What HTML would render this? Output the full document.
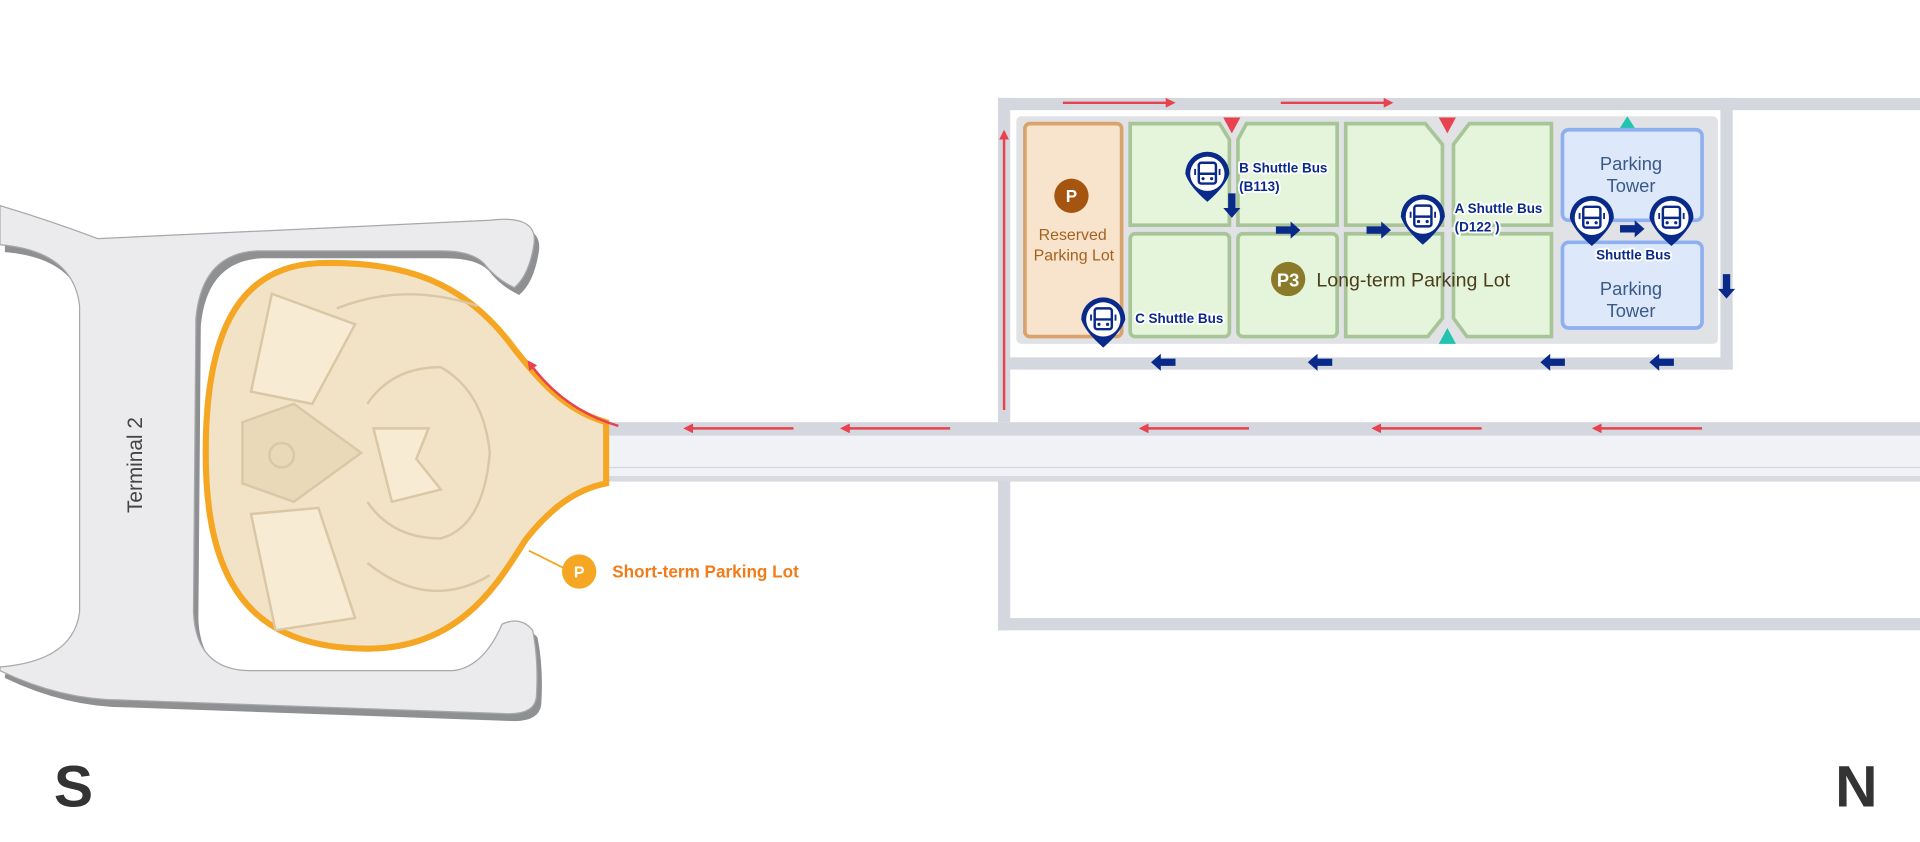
<!DOCTYPE html>
<html><head><meta charset="utf-8"><style>
html,body{margin:0;padding:0;background:#fff;}
svg{display:block;}
text{font-family:"Liberation Sans",sans-serif;}
.bl{font-size:11px;font-weight:bold;fill:#0a2a8a;stroke:#fff;stroke-width:3px;paint-order:stroke;stroke-linejoin:round;}
</style></head><body>
<svg width="1920" height="842" viewBox="0 0 1568 688" preserveAspectRatio="none" xmlns="http://www.w3.org/2000/svg">
<defs>
<marker id="ra" markerWidth="8" markerHeight="8" refX="6" refY="4" orient="auto" markerUnits="userSpaceOnUse"><path d="M0,0 L8,4 L0,8 Z" fill="#e8414f"/></marker>
<g id="bus">
<path d="M-18,0 A18,18 0 1 1 18,0 Q15,10 0,23 Q-15,10 -18,0 Z" fill="#0a2a8a"/>
<circle r="14" fill="#fff"/>
<rect x="-7" y="-9" width="14" height="17" rx="2" fill="none" stroke="#0a2a8a" stroke-width="2"/>
<line x1="-7" y1="0" x2="7" y2="0" stroke="#0a2a8a" stroke-width="2"/>
<circle cx="-3.5" cy="4" r="1.3" fill="#0a2a8a"/><circle cx="3.5" cy="4" r="1.3" fill="#0a2a8a"/>
<line x1="-10" y1="-4" x2="-10" y2="1" stroke="#0a2a8a" stroke-width="1.5"/><line x1="10" y1="-4" x2="10" y2="1" stroke="#0a2a8a" stroke-width="1.5"/>
</g>
<path id="arR" d="M-10,-3 L2,-3 L2,-7 L10,0 L2,7 L2,3 L-10,3 Z" fill="#0a2a8a"/>
</defs>

<!-- terminal shadow + body -->
<path transform="translate(4,6)" d="M0,168 Q40,180 80,195 L400,180 Q440,175 436,200 Q432,225 420,235 Q405,228 395,215 Q385,205 360,205 L210,205 Q165,207 160,260 L158,500 Q160,548 205,548 L370,548 Q395,545 410,510 Q425,503 435,515 Q440,540 438,570 Q436,585 410,583 L100,572 Q50,572 0,548 L0,545 Q60,540 65,500 L65,250 Q60,205 0,200 Z" fill="#8f9092"/>
<path d="M0,168 Q40,180 80,195 L400,180 Q440,175 436,200 Q432,225 420,235 Q405,228 395,215 Q385,205 360,205 L210,205 Q165,207 160,260 L158,500 Q160,548 205,548 L370,548 Q395,545 410,510 Q425,503 435,515 Q440,540 438,570 Q436,585 410,583 L100,572 Q50,572 0,548 L0,545 Q60,540 65,500 L65,250 Q60,205 0,200 Z" fill="#ebebed" stroke="#a7a8aa" stroke-width="1"/>
<text transform="translate(116,380) rotate(-90)" text-anchor="middle" font-size="17" fill="#444">Terminal 2</text>

<!-- main road -->
<rect x="470" y="345" width="1100" height="48" fill="#f1f2f6"/>
<rect x="470" y="345" width="1100" height="11" fill="#d5d7de"/>
<rect x="470" y="382" width="1100" height="11" fill="#f1f2f6" stroke="#d5d7de" stroke-width="1"/>
<rect x="470" y="389" width="1100" height="4" fill="#d8dae0"/>

<!-- short-term lot -->
<path d="M495,345 C460,335 440,310 420,285 C380,230 330,213 260,215 C190,218 168,280 168,370 C168,470 200,530 300,530 C380,530 410,470 430,440 C450,415 470,400 495,395 Z" fill="#f2e3c6" stroke="#f5a623" stroke-width="5"/>
<g fill="none" stroke="#d9c7a5" stroke-width="2">
<path d="M222,240 L290,265 L255,330 L205,320 Z" fill="#f7ebd3"/>
<path d="M205,420 L260,415 L290,505 L225,515 Z" fill="#f7ebd3"/>
<path d="M198,345 L240,330 L295,370 L240,410 L198,395 Z" fill="#ead9b9"/>
<path d="M300,330 Q320,300 360,300 Q395,320 400,370 Q395,430 360,440 Q320,440 300,410" />
<path d="M305,350 L350,350 L340,375 L360,400 L320,410 Z" fill="#f7ebd3"/>
<circle cx="230" cy="372" r="10"/>
<path d="M275,252 Q330,230 390,250"/><path d="M300,460 Q350,500 400,470"/>
</g>
<path d="M505,348 Q460,335 432,296" fill="none" stroke="#e8414f" stroke-width="2" marker-end="url(#ra)"/>

<!-- red arrows main road -->
<g stroke="#e8414f" stroke-width="2" marker-end="url(#ra)">
<line x1="648" y1="350" x2="560" y2="350"/><line x1="776" y1="350" x2="688" y2="350"/>
<line x1="1020" y1="350" x2="932" y2="350"/><line x1="1210" y1="350" x2="1122" y2="350"/>
<line x1="1390" y1="350" x2="1302" y2="350"/>
</g>

<!-- road loops -->
<g fill="#d5d7de">
<rect x="815" y="80" width="753" height="10"/>
<rect x="815" y="80" width="10" height="265"/>
<rect x="1405" y="80" width="10" height="222"/>
<rect x="815" y="292" width="600" height="10"/>
<rect x="815" y="393" width="10" height="122"/>
<rect x="815" y="505" width="753" height="10"/>
</g>
<g stroke="#e8414f" stroke-width="2" marker-end="url(#ra)">
<line x1="868" y1="84" x2="958" y2="84"/><line x1="1046" y1="84" x2="1136" y2="84"/>
<line x1="820" y1="335" x2="820" y2="108"/>
</g>

<!-- inner base -->
<rect x="830" y="95" width="573" height="186" rx="4" fill="#e1e2e6"/>

<!-- reserved -->
<rect x="837" y="101" width="79" height="174" rx="4" fill="#f8e3cd" stroke="#d9a46c" stroke-width="3"/>
<circle cx="875" cy="160" r="14" fill="#a5550f"/>
<text x="875" y="165" text-anchor="middle" font-size="14" font-weight="bold" fill="#fff">P</text>
<text x="876" y="196" text-anchor="middle" font-size="13" fill="#a5621f">Reserved</text>
<text x="877" y="213" text-anchor="middle" font-size="13" fill="#a5621f">Parking Lot</text>

<!-- green cells -->
<g fill="#e5f5dc" stroke="#a8c597" stroke-width="3">
<path d="M923,101 L996,101 L1004,114 L1004,184 L923,184 Z"/>
<path d="M1018,101 L1092,101 L1092,184 L1011,184 L1011,114 Z"/>
<path d="M1099,101 L1164,101 L1178,118 L1178,184 L1099,184 Z"/>
<path d="M1200,101 L1267,101 L1267,184 L1187,184 L1187,118 Z"/>
<rect x="923" y="191" width="81" height="84" rx="4"/>
<rect x="1011" y="191" width="81" height="84" rx="4"/>
<path d="M1099,191 L1178,191 L1178,260 L1166,275 L1099,275 Z"/>
<path d="M1187,191 L1267,191 L1267,275 L1198,275 L1187,260 Z"/>
</g>
<g fill="#e8414f"><path d="M999,96 L1013,96 L1006,109 Z"/><path d="M1175,96 L1189,96 L1182,109 Z"/></g>
<g fill="#22c4b0"><path d="M1322,106 L1336,106 L1329,95 Z"/><path d="M1175,281 L1189,281 L1182,268 Z"/></g>

<!-- towers -->
<rect x="1276" y="106" width="114" height="74" rx="5" fill="#dde8fb" stroke="#8fb0f0" stroke-width="3"/>
<rect x="1276" y="198" width="114" height="70" rx="5" fill="#dde8fb" stroke="#8fb0f0" stroke-width="3"/>
<g font-size="15" fill="#3a5a8a" text-anchor="middle">
<text x="1332" y="139">Parking</text><text x="1332" y="157">Tower</text>
<text x="1332" y="241">Parking</text><text x="1332" y="259">Tower</text>
</g>

<!-- P3 -->
<circle cx="1052" cy="228" r="14" fill="#8b7a2a"/>
<text x="1052" y="234" text-anchor="middle" font-size="15" font-weight="bold" fill="#fff">P3</text>
<text x="1075" y="234" font-size="16" fill="#4a3f1a">Long-term Parking Lot</text>

<!-- navy arrows -->
<use href="#arR" transform="translate(1006,168) rotate(90)"/>
<use href="#arR" transform="translate(1052,188)"/>
<use href="#arR" transform="translate(1126,188)"/>
<use href="#arR" transform="translate(1333,187)"/>
<use href="#arR" transform="translate(1410,234) rotate(90)"/>
<use href="#arR" transform="translate(950,296) rotate(180)"/>
<use href="#arR" transform="translate(1078,296) rotate(180)"/>
<use href="#arR" transform="translate(1268,296) rotate(180)"/>
<use href="#arR" transform="translate(1357,296) rotate(180)"/>

<!-- bus pins -->
<use href="#bus" transform="translate(986,142)"/>
<use href="#bus" transform="translate(1162,177)"/>
<use href="#bus" transform="translate(1300,178)"/>
<use href="#bus" transform="translate(1365,178)"/>
<use href="#bus" transform="translate(901,261)"/>
<text class="bl" x="1012" y="141">B Shuttle Bus</text><text class="bl" x="1012" y="156">(B113)</text>
<text class="bl" x="1188" y="174">A Shuttle Bus</text><text class="bl" x="1188" y="189">(D122 )</text>
<text class="bl" x="1334" y="212" text-anchor="middle">Shuttle Bus</text>
<text class="bl" x="927" y="264">C Shuttle Bus</text>

<!-- short-term label -->
<line x1="432" y1="450" x2="460" y2="464" stroke="#f5a623" stroke-width="1.5"/>
<circle cx="473" cy="467" r="14" fill="#f5a623"/>
<text x="473" y="472" text-anchor="middle" font-size="13" font-weight="bold" fill="#fff">P</text>
<text x="500" y="472" font-size="14" font-weight="bold" fill="#f07c1a">Short-term Parking Lot</text>

<text x="60" y="659" text-anchor="middle" font-size="48" font-weight="bold" fill="#333">S</text>
<text x="1516" y="659" text-anchor="middle" font-size="48" font-weight="bold" fill="#333">N</text>
</svg>
</body></html>
